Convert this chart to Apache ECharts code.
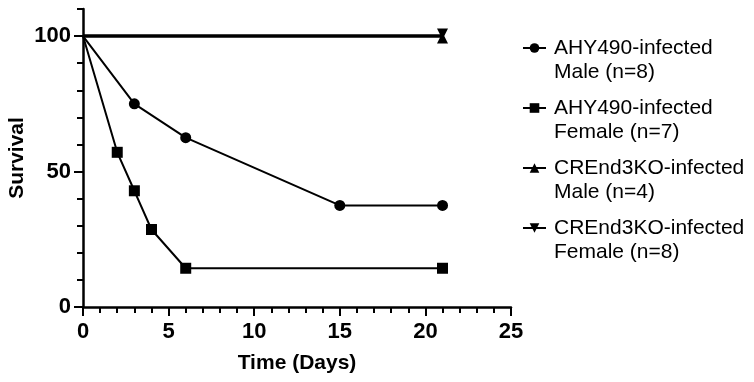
<!DOCTYPE html>
<html>
<head>
<meta charset="utf-8">
<script src="https://cdn.jsdelivr.net/npm/echarts@6/dist/echarts.min.js"></script>
<style>html,body{margin:0;padding:0;background:#fff;}#c{width:754px;height:382px;}</style>
</head>
<body>
<div id="c"></div>
<script>
const seriesNames = [
  'AHY490-infected\nMale (n=8)',
  'AHY490-infected\nFemale (n=7)',
  'CREnd3KO-infected\nMale (n=4)',
  'CREnd3KO-infected\nFemale (n=8)'
];
const maleDays = [0, 3, 6, 15, 21];
const maleSurvival = [100, 75, 62.5, 37.5, 37.5];
const femaleDays = [0, 2, 3, 4, 6, 21];
const femaleSurvival = [100, 57.1, 42.9, 28.6, 14.3, 14.3];
const koMaleDays = [0, 21];
const koMaleSurvival = [100, 100];
const koFemaleDays = [0, 21];
const koFemaleSurvival = [100, 100];
const yLabelValues = [0, 50, 100];

const FONT = "'Liberation Sans', Arial, Helvetica, sans-serif";

function build(days, surv) {
  return days.map((d, i) => i === 0 ? { value: [d, surv[i]], symbol: 'none' } : [d, surv[i]]);
}

const chart = echarts.init(document.getElementById('c'), null, { renderer: 'canvas' });
const lineSeries = (name, days, surv, symbol, width, offset) => ({
  name, type: 'line', data: build(days, surv), symbol, symbolSize: 11,
  symbolOffset: offset || [0, 0],
  showSymbol: true, silent: true,
  lineStyle: { color: '#000', width },
  itemStyle: { color: '#000' },
  z: 3
});

chart.setOption({
  animation: false,
  backgroundColor: '#fff',
  grid: { left: 83, right: 243, top: 9, bottom: 75, containLabel: false, outerBoundsMode: 'none' },
  legend: {
    orient: 'vertical', left: 517, top: 7, padding: 5,
    itemWidth: 23, itemHeight: 12, itemGap: -12,
    selectedMode: false,
    formatter: name => ' \n' + name,
    textStyle: { fontFamily: FONT, fontSize: 21, lineHeight: 24, color: '#000', padding: [0, 0, 0, 3] },
    data: seriesNames
  },
  xAxis: {
    type: 'value', min: 0, max: 25, interval: 5,
    name: 'Time (Days)', nameLocation: 'middle', nameGap: 46, nameMoveOverlap: false,
    nameTextStyle: { fontFamily: FONT, fontSize: 21, fontWeight: 'bold', color: '#000' },
    axisLine: { lineStyle: { color: '#000', width: 2.5 } },
    axisTick: { length: 9, lineStyle: { color: '#000', width: 2 } },
    minorTick: { show: true, splitNumber: 5, length: 6, lineStyle: { color: '#000', width: 2 } },
    splitLine: { show: false },
    minorSplitLine: { show: false },
    axisLabel: { margin: 14, fontFamily: FONT, fontSize: 22, fontWeight: 'bold', color: '#000' }
  },
  yAxis: [{
    type: 'value', min: 0, max: 110, interval: 10,
    name: 'Survival', nameLocation: 'middle', nameGap: 55, nameMoveOverlap: false,
    nameTextStyle: { fontFamily: FONT, fontSize: 21, fontWeight: 'bold', color: '#000' },
    axisLine: { show: true, lineStyle: { color: '#000', width: 2.5 } },
    axisTick: { show: true, length: 6, lineStyle: { color: '#000', width: 2 } },
    splitLine: { show: false },
    axisLabel: {
      margin: 12, fontFamily: FONT, fontSize: 22, fontWeight: 'bold', color: '#000',
      formatter: v => yLabelValues.indexOf(v) >= 0 ? String(v) : ''
    }
  }, {
    type: 'value', min: 0, max: 110, interval: 50, position: 'left',
    axisLine: { show: false },
    axisTick: { show: true, length: 9, customValues: yLabelValues, lineStyle: { color: '#000', width: 2 } },
    axisLabel: { show: false },
    splitLine: { show: false }
  }],
  series: [
    lineSeries(seriesNames[0], maleDays, maleSurvival, 'circle', 2),
    lineSeries(seriesNames[1], femaleDays, femaleSurvival, 'rect', 2),
    lineSeries(seriesNames[2], koMaleDays, koMaleSurvival, 'triangle', 3, [0, 2]),
    lineSeries(seriesNames[3], koFemaleDays, koFemaleSurvival, 'path://M0,0L10,0L5,10Z', 3, [0, -2])
  ]
});
</script>
</body>
</html>
